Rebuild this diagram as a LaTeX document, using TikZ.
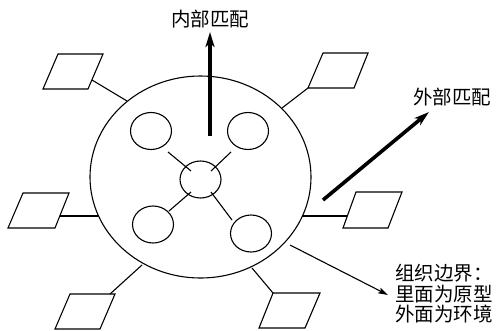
\documentclass[tikz,border=0pt]{standalone}
\usepackage{fontspec}
\newfontfamily\cjk{Noto Sans CJK SC}
\usetikzlibrary{shapes.geometric,arrows.meta}
\tikzset{
  line/.style={line width=1.1pt,black},
  small/.style={ellipse,draw,line width=1.1pt,minimum width=41pt,minimum height=37pt,inner sep=0pt},
  big/.style={ellipse,draw,line width=1.1pt,minimum width=221pt,minimum height=202pt,inner sep=0pt},
  para/.style={draw,line width=1.1pt,line join=miter},
  thick arrow/.style={line width=3.6pt,-{Stealth[length=15pt,width=9pt,inset=4pt]}},
  thin arrow/.style={line width=1.1pt,-{Stealth[length=10pt,width=6pt,inset=2pt]}},
  lbl/.style={font=\cjk\fontsize{19.5}{20.5}\selectfont,inner sep=0pt}
}
\begin{document}
\begin{tikzpicture}[x=1pt,y=-1pt]
\useasboundingbox (0,0) rectangle (500,330);
% organisation boundary
\node[big] (org) at (200.5,177) {};
% inner units
\node[small] (c1) at (151,131) {};
\node[small] (c2) at (248,131) {};
\node[small] (c3) at (200.5,179.5) {};
\node[small] (c4) at (153,224.5) {};
\node[small] (c5) at (251,233.5) {};
% cross lines
\coordinate (x1a) at (168,152); \coordinate (x1b) at (191,171);
\coordinate (x2a) at (231,152); \coordinate (x2b) at (211,171);
\coordinate (x3a) at (169,211); \coordinate (x3b) at (191,192);
\coordinate (x4a) at (232,220); \coordinate (x4b) at (211,192);
\draw[line] (x1a) -- (x1b);
\draw[line] (x2a) -- (x2b);
\draw[line] (x3a) -- (x3b);
\draw[line] (x4a) -- (x4b);
% parallelograms
\draw[para] (43,89) -- (88,89) -- (103,54) -- (58,54) -- cycle;
\draw[para] (308,88) -- (354,88) -- (368,53) -- (323,53) -- cycle;
\draw[para] (8,228) -- (55,228) -- (69,193) -- (23,193) -- cycle;
\draw[para] (343,228) -- (388,228) -- (402,192) -- (356,192) -- cycle;
\draw[para] (55,329) -- (100,329) -- (115,294) -- (70,294) -- cycle;
\draw[para] (259,328) -- (305,328) -- (320,293) -- (273,293) -- cycle;
% connector end points
\coordinate (p1) at (92,80);   \coordinate (b1) at (127,101);
\coordinate (p2) at (308,88);  \coordinate (b2) at (282,108);
\coordinate (p3) at (60,216);  \coordinate (b3) at (98,216);
\coordinate (p4) at (347,216); \coordinate (b4) at (302,216);
\coordinate (p5) at (110,294); \coordinate (b5) at (142,265);
\coordinate (p6) at (273,293); \coordinate (b6) at (252,268);
\draw[line] (p1) -- (b1);
\draw[line] (p2) -- (b2);
\draw[line] (p3) -- (b3);
\draw[line] (p4) -- (b4);
\draw[line] (p5) -- (b5);
\draw[line] (p6) -- (b6);
% labels
\node[lbl] (inner) at (210,19) {内部匹配};
\node[lbl] (outer) at (452,97) {外部匹配};
\node[lbl,anchor=north west,align=left] (bound) at (395,264) {组织边界：\\里面为原型\\外面为环境};
% arrows
\coordinate (ia) at (210,136); \coordinate (ib) at (210,32);
\draw[thick arrow] (ia) -- (ib);
\coordinate (oa) at (323,200); \coordinate (ob) at (429,112);
\draw[thick arrow] (oa) -- (ob);
\coordinate (ba) at (290,245); \coordinate (bb) at (388,295);
\draw[thin arrow] (ba) -- (bb);
\end{tikzpicture}
\end{document}
